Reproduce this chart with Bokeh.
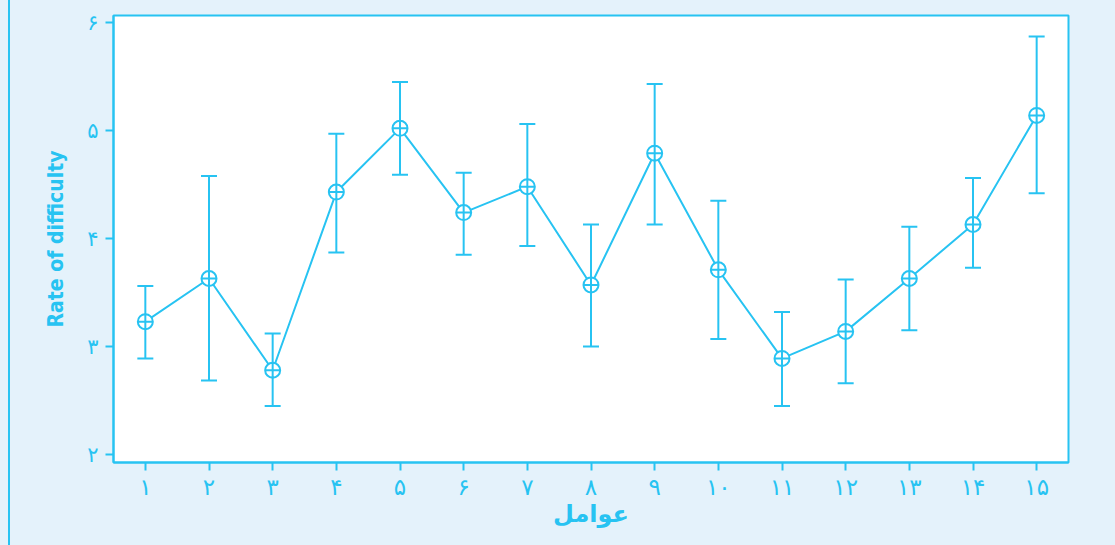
from bokeh.plotting import figure
from bokeh.models import ColumnDataSource, Whisker, TeeHead, FixedTicker, Range1d
from bokeh.embed import file_html
from bokeh.resources import INLINE

factors = list(range(1, 16))
means = [3.23, 3.63, 2.78, 4.43, 5.02, 4.24, 4.48, 3.57, 4.79, 3.71, 2.89, 3.14, 3.63, 4.13, 5.14]
upper = [3.56, 4.58, 3.12, 4.97, 5.45, 4.61, 5.06, 4.13, 5.43, 4.35, 3.32, 3.62, 4.11, 4.56, 5.87]
lower = [2.89, 2.685, 2.45, 3.87, 4.59, 3.85, 3.93, 3.00, 4.13, 3.07, 2.45, 2.66, 3.15, 3.73, 4.42]
x_tick_labels = ["۱", "۲", "۳", "۴", "۵", "۶", "۷", "۸", "۹", "۱۰", "۱۱", "۱۲", "۱۳", "۱۴", "۱۵"]
y_ticks = [2, 3, 4, 5, 6]
y_tick_labels = ["۲", "۳", "۴", "۵", "۶"]

BLUE = "#27c3f2"
BG = "#e4f2fb"

src = ColumnDataSource(dict(x=factors, y=means, upper=upper, lower=lower))

p = figure(width=1115, height=545, output_backend="svg", toolbar_location=None,
           x_range=Range1d(0.5, 15.5), y_range=Range1d(1.926, 6.065),
           min_border_left=113, min_border_right=47, min_border_top=15, min_border_bottom=83)
p.background_fill_color = "white"
p.border_fill_color = BG
p.border_fill_alpha = 0
p.styles = {"background": f"linear-gradient(to right, {BG} 0px, {BG} 8px, {BLUE} 8px, "
                          f"{BLUE} 10px, {BG} 10px, {BG} 100%)"}
p.outline_line_color = BLUE
p.outline_line_width = 2
p.grid.visible = False

p.line("x", "y", source=src, line_color=BLUE, line_width=2)
w = Whisker(base="x", upper="upper", lower="lower", source=src,
            line_color=BLUE, line_width=2,
            upper_head=TeeHead(size=16, line_color=BLUE, line_width=2),
            lower_head=TeeHead(size=16, line_color=BLUE, line_width=2))
p.add_layout(w)
p.scatter("x", "y", source=src, marker="circle_cross", size=15,
          line_color=BLUE, line_width=2, fill_color="white")

p.xaxis.ticker = FixedTicker(ticks=factors)
p.xaxis.major_label_overrides = {f: l for f, l in zip(factors, x_tick_labels)}
p.yaxis.ticker = FixedTicker(ticks=y_ticks)
p.yaxis.major_label_overrides = {t: l for t, l in zip(y_ticks, y_tick_labels)}

for ax in (p.xaxis, p.yaxis):
    ax.axis_line_color = BLUE
    ax.axis_line_width = 2
    ax.major_tick_line_color = BLUE
    ax.major_tick_line_width = 2
    ax.major_tick_out = 8
    ax.major_tick_in = 0
    ax.minor_tick_line_color = None
    ax.major_label_text_color = BLUE
    ax.major_label_text_font = "DejaVu Sans"
    ax.axis_label_text_color = BLUE
    ax.axis_label_text_font_style = "bold"

p.xaxis.major_label_text_font_size = "23px"
p.xaxis.major_label_standoff = 3
p.yaxis.major_label_text_font_size = "21px"
p.yaxis.major_label_standoff = 7
p.yaxis.major_label_orientation = "horizontal"

p.xaxis.axis_label = "عوامل"
p.xaxis.axis_label_text_font = "DejaVu Sans"
p.xaxis.axis_label_text_font_size = "24px"
p.xaxis.axis_label_standoff = -3

p.yaxis.axis_label = "Rate of difficulty"
p.yaxis.axis_label_text_font = "DejaVu Sans Condensed"
p.yaxis.axis_label_text_font_size = "21px"
p.yaxis.axis_label_standoff = 16

open("out.html", "w").write(file_html(p, INLINE))
